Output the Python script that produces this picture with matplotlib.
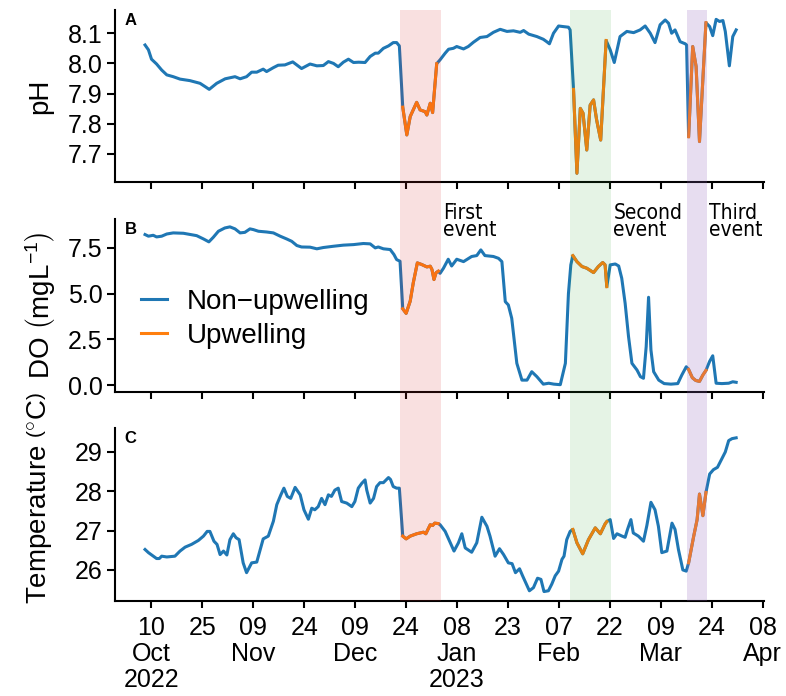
import numpy as np
import pandas as pd
import matplotlib
matplotlib.use("Agg")
import matplotlib.pyplot as plt
import matplotlib.transforms as mtransforms
import matplotlib.dates as mdates
from matplotlib.patches import Rectangle

# ---------------- data (days since 2022-10-10) ----------------
base_date = pd.Timestamp("2022-10-10")

ph_days = [-1.9, -0.9, 0.0, 1.5, 3.0, 4.5, 6.4, 8.4, 11.3, 14.3, 15.8, 17.0, 19.2, 21.7, 24.6,
           26.1, 28.0, 29.5, 31.0, 32.9, 33.9, 35.9, 37.3, 39.3, 41.6, 44.2, 46.7, 48.7, 50.6,
           52.1, 53.6, 55.0, 56.5, 58.0, 59.5, 61.0, 62.9, 64.4, 65.9, 66.8, 68.3, 69.8, 71.2,
           72.2, 73.0, 74.0, 75.2, 76.2, 78.1, 79.1, 80.6, 81.1, 82.1, 82.8, 84.0, 85.0, 86.5,
           87.5, 88.9, 89.9, 91.9, 93.3, 94.8, 96.8, 98.8, 100.7, 102.7, 104.7, 106.6, 108.6,
           109.6, 111.1, 113.5, 115.4, 116.4, 117.2, 118.4, 119.9, 121.3, 122.8, 123.3, 124.3,
           125.3, 126.3, 127.1, 128.2, 129.2, 130.2, 131.1, 132.3, 133.9, 135.1, 136.3, 138.0,
           140.0, 142.0, 143.9, 145.4, 146.9, 148.3, 149.8, 151.3, 152.3, 153.2, 154.2, 155.7,
           157.2, 157.6, 158.2, 159.4, 160.4, 161.4, 163.3, 164.4, 165.3, 166.3, 167.3, 168.3,
           169.0, 170.2, 171.2, 172.2]
ph_vals = [8.061, 8.045, 8.014, 7.998, 7.978, 7.962, 7.956, 7.948, 7.943, 7.934, 7.923, 7.914,
           7.934, 7.949, 7.956, 7.949, 7.956, 7.971, 7.971, 7.981, 7.973, 7.986, 7.994, 7.995,
           8.005, 7.983, 7.998, 7.992, 7.993, 8.006, 8.000, 7.989, 8.004, 8.014, 8.003, 8.004,
           8.003, 8.023, 8.034, 8.034, 8.050, 8.058, 8.069, 8.069, 8.058, 7.855, 7.763, 7.824,
           7.871, 7.846, 7.840, 7.829, 7.868, 7.837, 7.999, 8.012, 8.034, 8.047, 8.050, 8.056,
           8.048, 8.056, 8.070, 8.086, 8.089, 8.103, 8.113, 8.106, 8.108, 8.103, 8.109, 8.097,
           8.089, 8.080, 8.072, 8.065, 8.100, 8.124, 8.122, 8.120, 8.111, 7.914, 7.636, 7.851,
           7.835, 7.713, 7.862, 7.879, 7.813, 7.746, 8.076, 8.045, 8.003, 8.089, 8.106, 8.102,
           8.111, 8.124, 8.100, 8.069, 8.128, 8.144, 8.133, 8.100, 8.111, 8.072, 8.065, 8.061,
           7.757, 8.056, 7.990, 7.741, 8.135, 8.122, 8.092, 8.146, 8.139, 8.142, 8.106, 7.992,
           8.089, 8.111]

do_days = [-1.9, -0.9, 0.5, 1.5, 3.0, 4.5, 6.4, 9.4, 13.3, 15.3, 16.9, 18.2, 19.7, 21.6, 23.1,
           24.6, 26.1, 27.5, 29.0, 30.0, 31.5, 33.9, 35.9, 37.9, 39.8, 41.3, 42.8, 44.2, 46.7,
           48.7, 50.6, 53.6, 56.5, 59.5, 62.4, 64.4, 65.9, 66.8, 68.3, 70.3, 71.4, 72.2, 73.2,
           74.0, 75.0, 76.2, 77.1, 78.3, 79.6, 81.1, 82.1, 82.6, 83.2, 83.8, 84.5, 85.0, 86.0,
           87.4, 88.4, 89.9, 91.9, 94.3, 95.8, 97.0, 98.2, 100.7, 102.2, 103.2, 104.2, 105.1,
           106.1, 107.6, 109.1, 110.6, 112.0, 113.5, 115.4, 117.0, 118.5, 120.4, 121.9, 122.8,
           123.5, 124.1, 125.3, 126.8, 128.2, 130.2, 131.6, 132.9, 133.6, 134.1, 135.1, 136.6,
           137.6, 138.5, 139.5, 140.5, 141.5, 143.0, 144.0, 144.9, 145.7, 146.4, 147.1, 147.9,
           149.4, 151.0, 153.0, 155.0, 156.2, 157.5, 158.2, 159.3, 160.3, 161.4, 162.4, 163.3,
           164.4, 165.3, 166.3, 168.0, 170.0, 171.2, 172.2]
do_vals = [8.23, 8.14, 8.19, 8.10, 8.14, 8.26, 8.32, 8.30, 8.17, 7.99, 7.83, 8.08, 8.41, 8.59,
           8.65, 8.54, 8.32, 8.35, 8.54, 8.50, 8.41, 8.37, 8.32, 8.14, 7.99, 7.86, 7.63, 7.55,
           7.54, 7.45, 7.52, 7.59, 7.65, 7.68, 7.74, 7.72, 7.50, 7.55, 7.45, 7.41, 7.14, 6.86,
           6.77, 4.17, 3.92, 4.59, 5.59, 6.68, 6.59, 6.46, 6.50, 6.32, 5.77, 6.14, 6.23, 6.11,
           6.39, 6.88, 6.51, 6.88, 6.75, 7.03, 7.08, 7.39, 7.08, 7.03, 6.93, 6.75, 4.56, 4.38,
           3.65, 1.19, 0.27, 0.27, 0.73, 0.46, 0.05, 0.10, 0.05, 0.02, 1.19, 5.00, 6.57, 7.08,
           6.75, 6.48, 6.39, 6.15, 6.48, 6.70, 6.57, 5.38, 6.57, 6.62, 6.51, 5.84, 4.47, 2.65,
           1.19, 0.82, 0.46, 0.37, 2.10, 4.80, 1.92, 0.73, 0.27, 0.08, 0.05, 0.08, 0.55, 1.00,
           0.85, 0.40, 0.25, 0.20, 0.55, 0.80, 1.30, 1.60, 0.10, 0.08, 0.10, 0.18, 0.15]

temp_days = [-1.9, -0.9, 1.5, 2.3, 3.0, 4.5, 6.9, 8.4, 9.9, 11.8, 13.8, 15.3, 16.4, 17.2, 18.4,
             19.3, 20.2, 21.2, 22.2, 23.1, 24.1, 24.9, 25.8, 27.0, 28.0, 29.5, 31.0, 32.9, 34.4,
             35.9, 36.9, 38.1, 39.0, 40.0, 41.0, 42.3, 43.8, 44.9, 46.2, 47.2, 48.1, 49.1, 50.1,
             51.1, 52.1, 53.0, 54.0, 55.0, 56.0, 57.5, 59.0, 59.9, 60.9, 61.9, 62.9, 63.4, 64.4,
             65.4, 66.3, 67.3, 68.3, 69.8, 70.4, 71.2, 72.2, 73.0, 74.0, 75.0, 76.2, 78.1, 80.1,
             80.8, 82.1, 82.8, 83.4, 84.4, 85.0, 86.5, 88.0, 89.1, 90.4, 91.4, 92.4, 94.3, 95.8,
             97.3, 98.8, 99.7, 101.2, 102.5, 103.7, 105.1, 106.2, 107.2, 108.4, 109.3, 111.3,
             112.5, 113.7, 114.7, 115.6, 116.9, 117.9, 118.9, 119.9, 120.9, 121.5, 122.3, 123.3,
             124.1, 125.3, 127.0, 128.7, 130.7, 132.2, 133.6, 134.1, 135.1, 136.1, 137.1, 138.6,
             139.5, 140.2, 141.2, 141.9, 143.4, 144.9, 145.9, 147.1, 148.3, 149.3, 150.3, 151.8,
             153.3, 154.2, 155.2, 156.5, 157.5, 158.2, 159.7, 160.7, 161.4, 162.4, 163.3, 164.4,
             165.5, 166.7, 168.0, 169.0, 170.0, 171.0, 172.2]
temp_vals = [26.52, 26.44, 26.29, 26.29, 26.35, 26.33, 26.35, 26.48, 26.58, 26.65, 26.75, 26.86,
             26.98, 26.98, 26.73, 26.65, 26.39, 26.48, 26.38, 26.77, 26.92, 26.82, 26.77, 26.18,
             25.93, 26.18, 26.20, 26.79, 26.86, 27.24, 27.66, 27.91, 28.08, 27.87, 27.82, 28.10,
             27.91, 27.53, 27.29, 27.57, 27.53, 27.61, 27.82, 27.66, 27.91, 27.87, 28.03, 28.08,
             27.74, 27.70, 27.61, 27.74, 28.08, 28.20, 28.29, 28.03, 27.70, 27.82, 28.12, 28.22,
             28.22, 28.35, 28.30, 28.12, 28.08, 28.08, 26.86, 26.79, 26.86, 26.92, 26.96, 26.92,
             27.15, 27.13, 27.19, 27.18, 27.15, 26.98, 26.69, 26.48, 26.69, 26.92, 26.56, 26.45,
             26.69, 27.34, 27.11, 26.86, 26.35, 26.54, 26.39, 26.18, 26.16, 25.93, 26.03, 25.85,
             25.47, 25.55, 25.79, 25.76, 25.45, 25.47, 25.64, 25.85, 25.97, 26.27, 26.35, 26.77,
             26.98, 27.03, 26.69, 26.41, 26.77, 27.07, 26.92, 27.17, 27.23, 27.28, 26.80, 26.92,
             26.86, 26.83, 27.03, 27.28, 26.94, 26.86, 26.73, 27.13, 27.72, 27.53, 27.11, 26.44,
             26.48, 27.19, 27.03, 26.52, 26.00, 25.97, 26.18, 26.86, 27.28, 27.93, 27.38, 27.97,
             28.44, 28.55, 28.61, 28.83, 29.00, 29.29, 29.34, 29.36]

# upwelling periods (orange) and shaded event bands (days since base_date)
upwelling_start = [73.8, 124.0, 158.0]
upwelling_end = [84.6, 134.2, 163.5]
band_start = [73.3, 123.3, 157.7]
band_end = [85.3, 135.4, 163.6]
band_colors = ["#d62728", "#2ca02c", "#9467bd"]
band_alphas = [0.14, 0.12, 0.22]
event_labels = ["First\nevent", "Second\nevent", "Third\nevent"]

tick_days = [0, 15, 30, 45, 60, 75, 90, 105, 120, 135, 150, 165, 180]
tick_labels = ["10\nOct\n2022", "25", "09\nNov", "24", "09\nDec", "24", "08\nJan\n2023",
               "23", "07\nFeb", "22", "09\nMar", "24", "08\nApr"]

ph_ticks = [7.7, 7.8, 7.9, 8.0, 8.1]
do_ticks = [0.0, 2.5, 5.0, 7.5]
temp_ticks = [26, 27, 28, 29]

# ---------------- helpers ----------------
def to_dates(days):
    return base_date + pd.to_timedelta(np.asarray(days, dtype=float), unit="D")

BLUE = "#1f77b4"
ORANGE = "#ff7f0e"

plt.rcParams["font.family"] = ["Liberation Sans", "DejaVu Sans"]
plt.rcParams["mathtext.fontset"] = "custom"
plt.rcParams["mathtext.rm"] = "Liberation Sans"
plt.rcParams["mathtext.it"] = "Liberation Sans:italic"

fig = plt.figure(figsize=(7.86, 6.96), dpi=100)
W, H = 786.0, 696.0
left_px, right_px = 115, 764
panels_px = [(10, 182), (219, 392), (428, 601)]
axes = []
for top, bot in panels_px:
    ax = fig.add_axes([left_px / W, 1 - bot / H, (right_px - left_px) / W, (bot - top) / H])
    axes.append(ax)
axA, axB, axC = axes

series = [(axA, ph_days, ph_vals), (axB, do_days, do_vals), (axC, temp_days, temp_vals)]
for ax, d, v in series:
    d = np.asarray(d)
    v = np.asarray(v)
    ax.plot(to_dates(d), v, color=BLUE, lw=2.2, zorder=2, label="Non\u2212upwelling")
    for i, (s, e) in enumerate(zip(upwelling_start, upwelling_end)):
        m = (d >= s) & (d <= e)
        ax.plot(to_dates(d[m]), v[m], color=ORANGE, lw=2.2, zorder=2,
                label="Upwelling" if i == 0 else None)

xmin = to_dates([-10.75])[0]
xmax = to_dates([180.4])[0]
for ax in axes:
    ax.set_xlim(xmin, xmax)
    ax.set_xticks(to_dates(tick_days))
    for sp in ["top", "right"]:
        ax.spines[sp].set_visible(False)
    for sp in ["left", "bottom"]:
        ax.spines[sp].set_linewidth(1.5)
    ax.tick_params(axis="x", width=1.5, length=5.2, labelsize=18, pad=5.5, color="black")
    ax.tick_params(axis="y", width=1.5, length=5.8, labelsize=18, pad=3.2, color="black")

axA.set_xticklabels([])
axB.set_xticklabels([])
axC.set_xticklabels(tick_labels)
for lab in axC.get_xticklabels():
    lab.set_linespacing(1.12)

axA.set_ylim(7.607, 8.177)
axA.set_yticks(ph_ticks)
axA.set_yticklabels([f"{t:.1f}" for t in ph_ticks])
axB.set_ylim(-0.38, 9.08)
axB.set_yticks(do_ticks)
axB.set_yticklabels([f"{t:.1f}" for t in do_ticks])
axC.set_ylim(25.21, 29.61)
axC.set_yticks(temp_ticks)
axC.set_yticklabels([f"{t:d}" for t in temp_ticks])

# y labels
fig.text(40 / W, 1 - 96 / H, "pH", rotation=90, ha="center", va="center", fontsize=20)
fig.text(40 / W, 1 - 305 / H, r"DO $\left(\mathrm{mgL^{-1}}\right)$", rotation=90,
         ha="center", va="center", fontsize=20)
fig.text(40 / W, 1 - 498 / H, r"Temperature $\left(^{\circ}\mathrm{C}\right)$", rotation=90,
         ha="center", va="center", fontsize=20)

# panel letters
for ax, letter in zip(axes, ["A", "B", "C"]):
    ax.text(0.015, 0.985, letter, transform=ax.transAxes, ha="left", va="top",
            fontsize=12, fontweight="bold")

# shaded event bands spanning all panels
trans = mtransforms.blended_transform_factory(axC.transData, fig.transFigure)
y0 = 1 - panels_px[2][1] / H
y1 = 1 - panels_px[0][0] / H
for s, e, c, a in zip(band_start, band_end, band_colors, band_alphas):
    xs = mdates.date2num(to_dates([s])[0])
    xe = mdates.date2num(to_dates([e])[0])
    r = Rectangle((xs, y0), xe - xs, y1 - y0, transform=trans, facecolor=c, alpha=a,
                  edgecolor="none", zorder=3)
    fig.add_artist(r)

# event annotations
for e, txt in zip(band_end, event_labels):
    axB.text(to_dates([e + 0.6])[0], 1.095, txt, transform=axB.get_xaxis_transform(),
             ha="left", va="top", fontsize=15, linespacing=0.85,
             family="DejaVu Sans", fontstretch="condensed")

# legend
axB.legend(loc="upper left", bbox_to_anchor=(0.04, 0.598), frameon=False, fontsize=20,
           handlelength=0.95, handletextpad=0.7, labelspacing=0.3, borderpad=0,
           borderaxespad=0)

fig.savefig("out.png", dpi=100)
